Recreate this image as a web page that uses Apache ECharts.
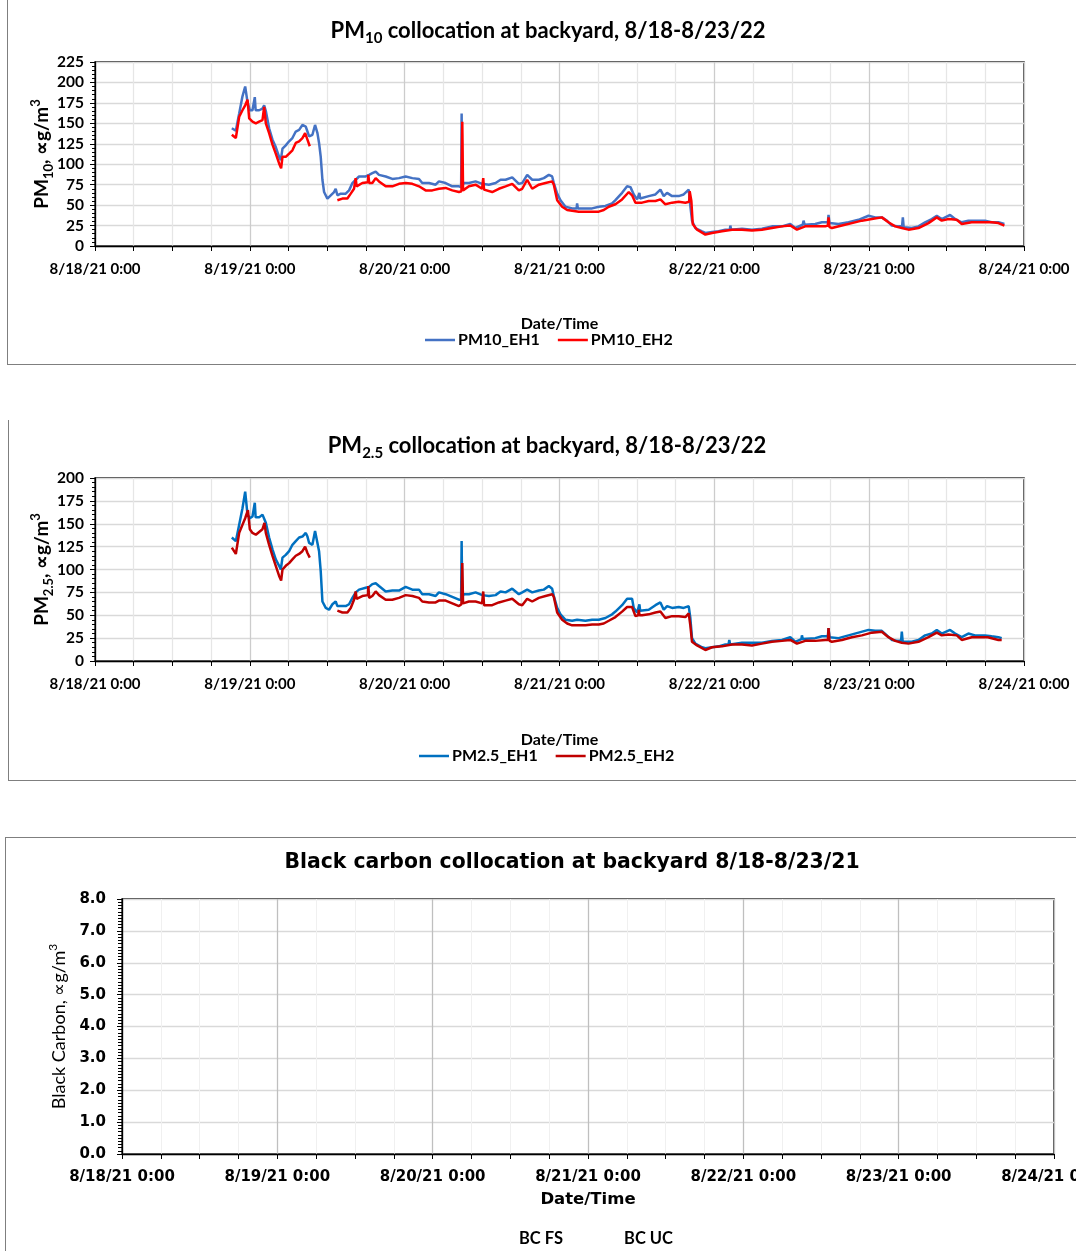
<!DOCTYPE html>
<html><head><meta charset="utf-8">
<script src="https://cdn.jsdelivr.net/npm/echarts@6/dist/echarts.min.js"></script>
<style>
html,body{margin:0;padding:0;background:#fff;width:1076px;height:1251px;overflow:hidden;position:relative}
.frame{position:absolute;box-sizing:border-box;}
.chart{position:absolute;left:0;width:1076px;}
</style></head>
<body>
<div class="frame" style="left:7px;top:-2px;width:1090px;height:367px;border-left:1px solid #7f7f7f;border-bottom:1px solid #7f7f7f"></div>
<div class="frame" style="left:8px;top:420px;width:1090px;height:361px;border-left:1px solid #7f7f7f;border-bottom:1px solid #7f7f7f"></div>
<div class="frame" style="left:5px;top:837px;width:1090px;height:430px;border-left:1px solid #7f7f7f;border-top:1px solid #7f7f7f"></div>
<div id="c1" class="chart" style="top:0;height:370px"></div>
<div id="c2" class="chart" style="top:400px;height:385px"></div>
<div id="c3" class="chart" style="top:830px;height:421px"></div>
<script>
// x values are hours since 8/18/21 0:00
const X_TICK_LABELS = ['8/18/21 0:00','8/19/21 0:00','8/20/21 0:00','8/21/21 0:00','8/22/21 0:00','8/23/21 0:00','8/24/21 0:00'];
const BC_TICK_LABELS = ['8/18/21 0:00','8/19/21 0:00','8/20/21 0:00','8/21/21 0:00','8/22/21 0:00','8/23/21 0:00','8/24/21 0:00'];
const PM10_SERIES_NAMES = ['PM10_EH1','PM10_EH2'];
const PM25_SERIES_NAMES = ['PM2.5_EH1','PM2.5_EH2'];
const BC_SERIES_NAMES = ['BC FS','BC UC'];

const pm10Eh1 = [[21.21,144],[21.83,141],[22.35,162],[22.86,183],[23.28,195],[23.64,176],[24.0,166],[24.41,166],[24.7,168],[24.77,182],[24.9,166],[25.44,166],[25.96,168],[26.22,172],[26.48,165],[26.99,144],[27.51,130],[28.02,121],[28.54,109],[28.80,105],[29.06,119],[29.57,123],[30.09,128],[30.60,132],[31.12,140],[31.64,142],[32.15,148],[32.67,146],[32.93,140],[33.19,134],[33.70,136],[34.11,148],[34.48,138],[34.73,126],[34.99,109],[35.25,81],[35.51,66],[36.02,58],[36.54,62],[37.06,66],[37.31,70],[37.57,62],[38.09,64],[38.86,64],[39.38,68],[39.90,77],[40.41,81],[40.93,85],[41.96,85],[42.48,87],[42.99,89],[43.51,91],[44.02,87],[45.06,85],[46.09,82],[47.12,83],[48.15,85],[49.19,83],[50.22,82],[50.73,77],[51.77,77],[52.80,75],[53.31,79],[54.35,77],[55.38,73],[56.41,73],[56.75,72],[56.83,162],[56.92,74],[57.19,77],[57.96,77],[58.99,79],[60.03,76],[61.06,75],[62.09,77],[62.86,81],[63.64,81],[64.67,84],[65.70,76],[66.22,77],[66.99,87],[67.77,81],[68.80,81],[69.57,83],[70.35,87],[70.86,85],[71.12,77],[71.64,64],[72.15,56],[72.93,48],[73.96,46],[74.65,46],[74.73,52],[74.85,46],[76.02,46],[77.06,46],[78.09,48],[79.12,49],[80.15,52],[80.67,56],[81.70,65],[82.48,73],[83.0,72],[83.51,63],[84.03,57],[84.3,57],[84.39,65],[84.5,58],[84.80,59],[85.83,61],[86.87,63],[87.64,69],[88.16,61],[88.67,65],[89.45,61],[90.48,61],[91.25,63],[92.03,69],[92.28,49],[92.54,31],[93.06,22],[94.09,18],[94.61,16],[95.64,17],[96.67,18],[97.70,20],[98.4,20],[98.48,25],[98.6,20],[100.29,21],[101.83,20],[103.38,21],[104.93,24],[106.48,24],[107.77,27],[108.54,22],[109.7,26],[109.83,31],[110.0,26],[111.64,27],[112.67,29],[113.6,29],[113.70,38],[113.85,28],[115.25,27],[116.80,29],[118.35,32],[119.90,37],[120.93,35],[121.96,35],[122.74,31],[123.51,25],[124.54,24],[125.1,24],[125.22,35],[125.35,23],[125.58,22],[126.61,22],[127.64,24],[128.67,29],[129.70,33],[130.48,37],[131.25,33],[132.54,38],[133.32,33],[134.35,29],[135.38,31],[136.41,31],[137.96,31],[138.99,29],[140.03,29],[140.96,27]];

const pm10Eh2 = [[21.21,136],[21.83,132],[22.35,158],[22.86,166],[23.28,172],[23.64,179],[23.9,156],[24.41,152],[24.93,150],[25.44,152],[25.96,154],[26.22,170],[26.48,150],[26.99,138],[27.51,124],[28.02,113],[28.54,101],[28.85,95],[29.06,109],[29.57,109],[30.09,113],[30.60,117],[31.12,126],[31.64,128],[32.15,132],[32.57,138],[32.93,130],[33.29,122],[35,null],[37.57,56],[38.35,58],[39.12,58],[39.64,64],[40.15,70],[40.35,72],[40.41,83],[40.55,73],[41.44,77],[42.3,78],[42.37,87],[42.5,77],[42.99,77],[43.51,83],[44.02,79],[45.06,73],[46.09,73],[47.12,76],[48.15,77],[49.19,76],[50.22,73],[51.25,68],[52.28,68],[53.31,70],[54.35,71],[55.38,68],[56.41,66],[56.8,67],[56.93,152],[57.05,68],[57.96,73],[58.99,75],[60.0,70],[60.18,83],[60.3,69],[61.57,66],[62.60,70],[63.64,73],[64.67,76],[65.70,68],[66.22,70],[66.99,81],[67.77,70],[68.80,75],[69.83,77],[70.86,79],[71.12,75],[71.64,56],[72.41,48],[73.19,44],[73.96,43],[74.99,42],[76.02,42],[77.06,42],[78.09,42],[78.86,44],[79.64,48],[80.67,51],[81.70,57],[82.74,66],[83.25,62],[83.77,53],[84.80,53],[85.83,55],[86.87,55],[87.64,57],[88.41,51],[89.45,53],[90.48,54],[91.51,53],[92.1,54],[92.18,67],[92.44,55],[92.65,27],[93.32,20],[94.61,14],[95.64,16],[97.19,18],[98.74,20],[100.29,20],[101.83,19],[103.38,20],[104.93,22],[106.48,24],[107.77,25],[108.80,20],[110.09,24],[111.64,24],[113.19,24],[113.6,25],[113.70,35],[113.85,23],[114.22,22],[115.77,25],[117.32,28],[118.87,31],[120.41,33],[121.96,35],[122.99,29],[124.03,24],[125.06,22],[126.09,20],[127.64,22],[129.19,28],[130.48,35],[131.25,31],[132.29,33],[133.58,32],[134.35,27],[135.90,29],[137.45,29],[138.99,29],[140.03,28],[140.96,25]];

const pm25Eh1 = [[21.21,135],[21.83,131],[22.35,149],[22.86,167],[23.28,185],[23.64,160],[24.0,156],[24.41,158],[24.7,158],[24.77,173],[24.9,157],[25.44,157],[25.96,160],[26.22,158],[26.48,151],[26.99,135],[27.51,122],[28.02,111],[28.54,104],[28.80,100],[29.06,113],[29.57,116],[30.09,120],[30.60,127],[31.12,131],[31.64,135],[32.15,136],[32.67,140],[32.93,136],[33.19,129],[33.70,127],[34.11,142],[34.48,129],[34.73,120],[34.99,98],[35.25,65],[35.77,58],[36.28,56],[36.80,62],[37.31,65],[37.57,60],[38.09,60],[38.86,60],[39.38,62],[39.90,69],[40.41,75],[40.93,78],[41.96,80],[42.48,81],[42.99,84],[43.51,85],[44.02,82],[45.06,76],[46.09,77],[47.12,77],[48.15,81],[49.19,78],[50.22,78],[50.73,73],[51.77,73],[52.80,71],[53.31,75],[54.35,73],[55.38,70],[56.41,67],[56.75,67],[56.83,131],[56.92,70],[57.19,73],[57.96,73],[58.99,75],[60.03,72],[61.06,71],[62.09,72],[62.86,76],[63.64,75],[64.67,79],[65.70,73],[66.22,75],[66.99,78],[67.77,75],[68.80,77],[69.57,78],[70.35,82],[70.86,79],[71.12,71],[71.64,58],[72.15,51],[72.93,45],[73.96,44],[74.73,45],[76.02,44],[77.06,45],[78.09,45],[79.12,47],[80.15,51],[80.67,54],[81.70,61],[82.48,68],[83.25,68],[83.51,58],[84.03,53],[84.3,54],[84.39,62],[84.5,55],[84.80,56],[85.83,56],[86.87,61],[87.64,64],[88.16,56],[88.67,60],[89.45,58],[90.48,59],[91.25,58],[92.03,60],[92.28,47],[92.54,25],[93.06,19],[94.09,15],[94.61,14],[95.64,15],[96.67,16],[97.70,18],[98.2,18],[98.32,23],[98.45,18],[100.29,20],[101.83,20],[103.38,20],[104.93,22],[106.48,23],[107.77,26],[108.54,21],[109.5,24],[109.58,28],[109.7,24],[111.64,25],[112.67,27],[113.6,27],[113.70,36],[113.85,26],[115.25,25],[116.80,28],[118.35,31],[119.90,34],[120.93,33],[121.96,33],[122.74,28],[123.51,23],[124.54,22],[124.95,22],[125.06,32],[125.2,21],[125.58,21],[126.61,21],[127.64,23],[128.67,28],[129.70,30],[130.48,34],[131.25,30],[132.54,34],[133.32,30],[134.35,26],[135.38,30],[136.41,28],[137.96,28],[138.99,27],[140.03,26],[140.54,25]];

const pm25Eh2 = [[21.21,124],[21.83,117],[22.35,140],[22.86,149],[23.28,156],[23.7,165],[24.0,144],[24.41,140],[24.93,138],[25.44,141],[25.96,144],[26.27,151],[26.48,140],[26.99,127],[27.51,115],[28.02,104],[28.54,93],[28.85,88],[29.06,100],[29.57,104],[30.09,107],[30.60,111],[31.12,115],[31.64,117],[32.15,120],[32.57,125],[32.93,118],[33.29,113],[35,null],[37.57,55],[38.35,53],[39.12,53],[39.64,58],[40.15,67],[40.35,68],[40.41,76],[40.55,68],[41.44,71],[42.3,72],[42.37,82],[42.5,69],[42.99,71],[43.51,76],[44.02,72],[45.06,67],[46.09,67],[47.12,69],[48.15,72],[49.19,71],[50.22,69],[50.73,65],[51.77,64],[52.80,64],[53.31,66],[54.35,66],[55.38,63],[56.41,60],[56.8,62],[56.93,107],[57.05,63],[57.96,65],[58.99,65],[60.0,63],[60.18,76],[60.3,61],[61.57,61],[62.60,64],[63.64,66],[64.67,68],[65.70,62],[66.22,61],[66.99,68],[67.77,65],[68.80,69],[69.83,71],[70.86,73],[71.12,70],[71.64,53],[72.41,45],[73.19,41],[73.96,39],[74.99,39],[76.02,39],[77.06,40],[78.09,40],[78.86,41],[79.64,44],[80.67,48],[81.70,54],[82.48,59],[83.25,59],[83.77,49],[84.2,50],[84.29,56],[84.4,50],[84.80,50],[85.83,51],[86.87,53],[87.64,54],[88.41,47],[89.45,49],[90.48,49],[91.51,48],[92.03,52],[92.28,39],[92.54,21],[93.32,17],[94.61,12],[95.64,15],[97.19,16],[98.74,18],[100.29,18],[101.83,17],[103.38,19],[104.93,21],[106.48,22],[107.77,23],[108.80,19],[110.09,22],[111.64,22],[113.19,23],[113.6,23],[113.70,36],[113.85,22],[114.22,21],[115.77,23],[117.32,26],[118.87,28],[120.41,31],[121.96,32],[122.99,26],[124.03,22],[125.06,20],[126.09,19],[127.64,21],[129.19,26],[130.48,31],[131.25,28],[132.29,29],[133.58,28],[134.35,23],[135.90,26],[137.45,26],[138.4,26],[138.5,28],[138.6,25],[140.03,23],[140.54,23]];

const bcFs = [];
const bcUc = [];

const CAL = 'Lato, "Liberation Sans", sans-serif';
const VER = '"DejaVu Sans", Verdana, sans-serif';

function pmOption(cfg) {
  return {
    animation: false,
    title: {
      text: cfg.title, left: cfg.titleLeft, top: cfg.titleTop, textAlign: 'center',
      textStyle: { rich: {
        a: { fontFamily: CAL, fontWeight: 'bold', fontSize: 22, color: '#000', lineHeight: 25, padding: [3,0,0,0], verticalAlign: 'top' },
        s: { fontFamily: CAL, fontWeight: 'bold', fontSize: 15, color: '#000', lineHeight: 17, padding: [14,0,0,0], verticalAlign: 'top' }
      } }
    },
    legend: {
      data: cfg.names, left: cfg.legendLeft, top: cfg.legendTop, itemWidth: 30, itemHeight: 14, itemGap: 18,
      icon: 'path://M0,6 L30,6 L30,8.5 L0,8.5 Z',
      textStyle: { fontFamily: CAL, fontWeight: 'bold', fontSize: 16, color: '#000', padding: [0,0,0,-2] }
    },
    grid: { left: 95, top: cfg.gridTop, width: 929, height: cfg.gridH, show: true, borderColor: '#000', borderWidth: 1.3, outerBoundsMode: 'none', containLabel: false },
    xAxis: {
      type: 'value', min: 0, max: 144, interval: 24,
      name: 'Date/Time', nameLocation: 'middle', nameGap: cfg.xNameGap, nameMoveOverlap: false,
      nameTextStyle: { fontFamily: CAL, fontWeight: 'bold', fontSize: 16, color: '#000' },
      axisLine: { onZero: false, lineStyle: { color: '#000', width: 1.3 } },
      axisTick: { show: true, length: 5, lineStyle: { color: '#000' } },
      minorTick: { show: true, splitNumber: 4, length: 5, lineStyle: { color: '#000' } },
      splitLine: { show: true, lineStyle: { color: '#cccccc', width: 1.3 } },
      minorSplitLine: { show: true, lineStyle: { color: '#e6e6e6', width: 1.3 } },
      axisLabel: { margin: 16, fontFamily: CAL, fontWeight: 'bold', fontSize: 15, color: '#000', showMinLabel: true, showMaxLabel: true,
        formatter: v => X_TICK_LABELS[Math.round(v / 24)] }
    },
    yAxis: {
      type: 'value', min: 0, max: cfg.yMax, interval: 25,
      name: cfg.yName, nameLocation: 'middle', nameGap: cfg.yNameGap, nameMoveOverlap: false,
      nameTextStyle: { rich: {
        a: { fontFamily: CAL, fontWeight: 'bold', fontSize: 19, color: '#000', lineHeight: 22, padding: [4,0,0,0], verticalAlign: 'top' },
        s: { fontFamily: CAL, fontWeight: 'bold', fontSize: 13, color: '#000', lineHeight: 15, padding: [14,0,0,0], verticalAlign: 'top' },
        p: { fontFamily: CAL, fontWeight: 'bold', fontSize: 13, color: '#000', lineHeight: 15, padding: [1,0,0,0], verticalAlign: 'top' }
      } },
      axisLine: { show: true, lineStyle: { color: '#000', width: 1.3 } },
      axisTick: { show: true, length: 5, lineStyle: { color: '#000' } },
      minorTick: { show: true, splitNumber: 5, length: 3, lineStyle: { color: '#000' } },
      splitLine: { show: true, lineStyle: { color: '#d9d9d9', width: 1.3 } },
      axisLabel: { margin: 11, fontFamily: CAL, fontWeight: 'bold', fontSize: 15.5, color: '#000' }
    },
    series: [
      { name: cfg.names[0], type: 'line', data: cfg.d1, showSymbol: false, symbol: 'none', connectNulls: false,
        lineStyle: { color: cfg.c1, width: 2.5 }, itemStyle: { color: cfg.c1 }, z: 2 },
      { name: cfg.names[1], type: 'line', data: cfg.d2, showSymbol: false, symbol: 'none', connectNulls: false,
        lineStyle: { color: cfg.c2, width: 2.5 }, itemStyle: { color: cfg.c2 }, z: 3 }
    ]
  };
}

echarts.init(document.getElementById('c1'), null, { renderer: 'canvas' }).setOption(pmOption({
  title: '{a|PM}{s|10}{a| collocation at backyard, 8/18-8/23/22}', titleTop: 12, titleLeft: 543,
  names: PM10_SERIES_NAMES, legendLeft: 420, legendTop: 327,
  gridTop: 62, gridH: 184, xNameGap: 70, yMax: 225,
  yName: '{a|PM}{s|10}{a|, ∝g/m}{p|3}', yNameGap: 45,
  d1: pm10Eh1, d2: pm10Eh2, c1: '#4472C4', c2: '#FF0000'
}));

echarts.init(document.getElementById('c2'), null, { renderer: 'canvas' }).setOption(pmOption({
  title: '{a|PM}{s|2.5}{a| collocation at backyard, 8/18-8/23/22}', titleTop: 27, titleLeft: 542,
  names: PM25_SERIES_NAMES, legendLeft: 414, legendTop: 343,
  gridTop: 78, gridH: 183, xNameGap: 71, yMax: 200,
  yName: '{a|PM}{s|2.5}{a|, ∝g/m}{p|3}', yNameGap: 45,
  d1: pm25Eh1, d2: pm25Eh2, c1: '#0070C0', c2: '#C00000'
}));

echarts.init(document.getElementById('c3'), null, { renderer: 'canvas' }).setOption({
  animation: false,
  title: {
    text: 'Black carbon collocation at backyard 8/18-8/23/21', left: 567, top: 18, textAlign: 'center',
    textStyle: { fontFamily: VER, fontWeight: 'bold', fontSize: 20.4, color: '#000' }
  },
  legend: {
    data: BC_SERIES_NAMES, left: 478, top: 395, itemWidth: 30, itemHeight: 14, itemGap: 25,
    textStyle: { fontFamily: CAL, fontWeight: 'bold', fontSize: 16.5, color: '#000' }
  },
  grid: { left: 122, top: 69, width: 932, height: 255, show: true, borderColor: '#000', borderWidth: 1.3, outerBoundsMode: 'none', containLabel: false },
  xAxis: {
    type: 'value', min: 0, max: 144, interval: 24,
    name: 'Date/Time', nameLocation: 'middle', nameGap: 37, nameMoveOverlap: false,
    nameTextStyle: { fontFamily: VER, fontWeight: 'bold', fontSize: 16.5, color: '#000' },
    axisLine: { onZero: false, lineStyle: { color: '#000', width: 1.3 } },
    axisTick: { show: true, length: 5, lineStyle: { color: '#000' } },
    minorTick: { show: true, splitNumber: 4, length: 5, lineStyle: { color: '#000' } },
    splitLine: { show: true, lineStyle: { color: '#bfbfbf', width: 1.3 } },
    minorSplitLine: { show: true, lineStyle: { color: '#f0f0f0', width: 1 } },
    axisLabel: { margin: 16, fontFamily: VER, fontWeight: 'bold', fontSize: 15, color: '#000', showMinLabel: true, showMaxLabel: true,
      formatter: v => BC_TICK_LABELS[Math.round(v / 24)] }
  },
  yAxis: {
    type: 'value', min: 0, max: 8, interval: 1,
    name: '{a|Black Carbon, ∝g/m}{p|3}', nameLocation: 'middle', nameGap: 55, nameMoveOverlap: false,
    nameTextStyle: { rich: {
      a: { fontFamily: CAL, fontSize: 18, color: '#000', lineHeight: 21, padding: [4,0,0,0], verticalAlign: 'top' },
      p: { fontFamily: CAL, fontSize: 12, color: '#000', lineHeight: 14, padding: [1,0,0,0], verticalAlign: 'top' }
    } },
    axisLine: { show: true, lineStyle: { color: '#000', width: 1.3 } },
    axisTick: { show: true, length: 5, lineStyle: { color: '#000' } },
    minorTick: { show: true, splitNumber: 10, length: 4, lineStyle: { color: '#000' } },
    splitLine: { show: true, lineStyle: { color: '#d9d9d9', width: 1.3 } },
    axisLabel: { margin: 16, fontFamily: VER, fontWeight: 'bold', fontSize: 15, color: '#000', formatter: v => v.toFixed(1) }
  },
  series: [
    { name: BC_SERIES_NAMES[0], type: 'line', data: bcFs, symbol: 'none', lineStyle: { color: 'rgba(0,0,0,0)' }, itemStyle: { color: 'rgba(0,0,0,0)' } },
    { name: BC_SERIES_NAMES[1], type: 'line', data: bcUc, symbol: 'none', lineStyle: { color: 'rgba(0,0,0,0)' }, itemStyle: { color: 'rgba(0,0,0,0)' } }
  ]
});
</script>
</body></html>
